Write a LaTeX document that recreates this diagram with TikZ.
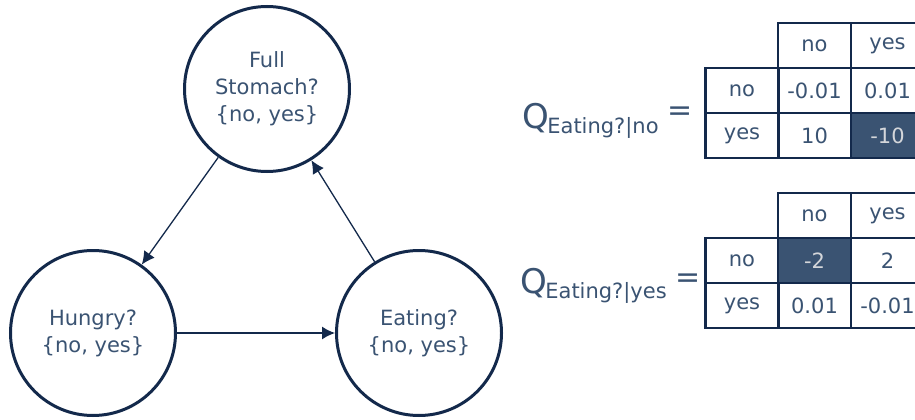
\documentclass[tikz,border=0pt]{standalone}
\usepackage{fontspec}
\setmainfont{DejaVu Sans}
\usetikzlibrary{arrows.meta,positioning}
\definecolor{navy}{HTML}{13294B}
\definecolor{slate}{HTML}{3A5372}
\definecolor{pale}{HTML}{D4D6DA}
\tikzset{
  var/.style={circle,draw=navy,line width=3pt,minimum size=165pt,inner sep=0pt,
    text=slate,align=center,font=\fontsize{21}{27}\selectfont},
  dep/.style={-{Latex[length=13pt,width=13pt]},draw=navy,line width=1.3pt},
  qcell/.style={rectangle,draw=navy,line width=2.8pt,minimum width=73pt,
    minimum height=45pt,inner sep=0pt,text=slate,font=\fontsize{21}{25}\selectfont},
  qhot/.style={qcell,fill=slate,text=pale},
  qbig/.style={inner sep=0pt,text=slate,font=\fontsize{34}{34}\selectfont},
  qsub/.style={inner sep=0pt,text=slate,font=\fontsize{21}{25}\selectfont}
}
\begin{document}
\begin{tikzpicture}[x=1pt,y=-1pt]
    \useasboundingbox (0,0) rectangle (915,420);

    % network
    \node[var] (full)   at (267,89)  {Full\\Stomach?\\\{no, yes\}};
    \node[var] (hungry) at (93,333)  {Hungry?\\\{no, yes\}};
    \node[var] (eating) at (419,333) {Eating?\\\{no, yes\}};

    \draw[dep] (full) -- (hungry);
    \draw[dep] (hungry) -- (eating);
    \draw[dep] (eating) -- (full);

    % Q for Eating? given no
    \node[qbig,anchor=base west] (qno) at (522,128) {Q};
    \node[qsub,anchor=base west] (qnosub) at ([xshift=-2pt,yshift=-5pt]qno.base east) {Eating?|no};
    \node[qbig,font=\fontsize{30}{30}\selectfont] (qnoeq) at (680,114) {=};

    \node[qcell] (qn-h-no)   at (814.5,45.5)  {no};
    \node[qcell] (qn-h-yes)  at (887.5,45.5)  {yes};
    \node[qcell] (qn-r-no)   at (742,90.5)    {no};
    \node[qcell] (qn-r-yes)  at (742,135.5)   {yes};
    \node[qcell] (qn-no-no)  at (814.5,90.5)  {-0.01};
    \node[qcell] (qn-no-yes) at (887.5,90.5)  {0.01};
    \node[qcell] (qn-yes-no) at (814.5,135.5) {10};
    \node[qhot]  (qn-yes-yes) at (887.5,135.5) {-10};

    % Q for Eating? given yes
    \node[qbig,anchor=base west] (qyes) at (520,293) {Q};
    \node[qsub,anchor=base west] (qyessub) at ([xshift=-2pt,yshift=-5pt]qyes.base east) {Eating?|yes};
    \node[qbig,font=\fontsize{30}{30}\selectfont] (qyeseq) at (688,281) {=};

    \node[qcell] (qy-h-no)   at (814.5,215.5) {no};
    \node[qcell] (qy-h-yes)  at (887.5,215.5) {yes};
    \node[qcell] (qy-r-no)   at (742,260.5)   {no};
    \node[qcell] (qy-r-yes)  at (742,305.5)   {yes};
    \node[qhot]  (qy-no-no)  at (814.5,260.5) {-2};
    \node[qcell] (qy-no-yes) at (887.5,260.5) {2};
    \node[qcell] (qy-yes-no) at (814.5,305.5) {0.01};
    \node[qcell] (qy-yes-yes) at (887.5,305.5) {-0.01};
\end{tikzpicture}
\end{document}
